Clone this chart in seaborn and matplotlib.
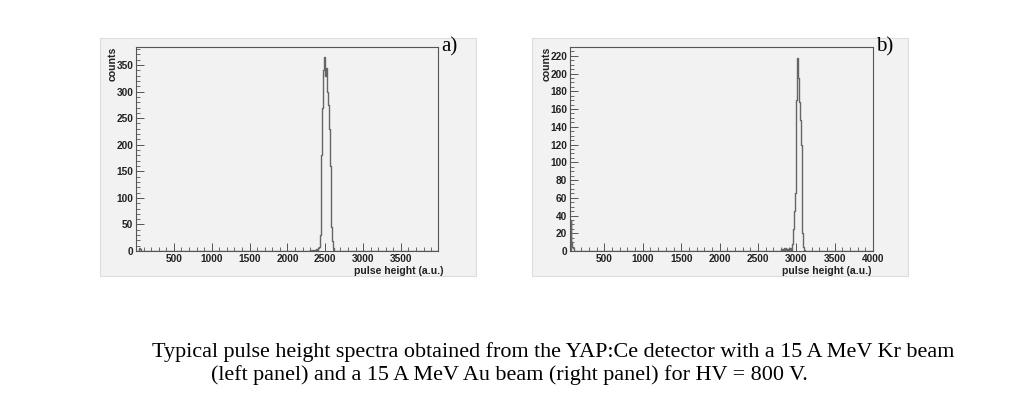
import numpy as np
import pandas as pd
import matplotlib
matplotlib.use("Agg")
import matplotlib.pyplot as plt
import seaborn as sns
from matplotlib.patches import Rectangle
from matplotlib.ticker import MultipleLocator

# Kr beam spectrum (bin width 10, only non-empty bins listed)
kr_x = [40, 50, 60, 2300, 2320, 2340, 2360, 2380, 2400, 2410, 2420,
        2430, 2440, 2450, 2460, 2470, 2480, 2490, 2500, 2510, 2520,
        2530, 2540, 2550, 2560, 2570, 2580, 2590, 2600, 2610]
kr_counts = [5, 3, 2, 1, 1, 2, 2, 3, 4, 5, 8,
             30, 90, 180, 270, 340, 355, 365, 330, 345, 325,
             300, 275, 230, 160, 95, 45, 18, 6, 2]

# Au beam spectrum
au_x = [60, 70, 80, 90, 100, 2800, 2820, 2840, 2860, 2880, 2900, 2920, 2940,
        2950, 2960, 2970, 2980, 2990, 3000, 3010, 3020, 3030, 3040,
        3050, 3060, 3070, 3080, 3090, 3100]
au_counts = [35, 10, 5, 3, 2, 2, 2, 3, 3, 2, 3, 3, 4,
             8, 25, 45, 65, 110, 170, 218, 195, 175, 168,
             148, 120, 60, 20, 5, 1]

caption1 = "Typical pulse height spectra obtained from the YAP:Ce detector with a 15 A MeV Kr beam"
caption2 = "(left panel) and a 15 A MeV Au beam (right panel) for HV = 800 V."

bg = "#f2f2f2"

fig = plt.figure(figsize=(10.17, 4.01), dpi=100)
fig.patch.set_facecolor("white")

# grey canvas behind each panel
for x0 in (0.0983, 0.523):
    fig.patches.append(Rectangle((x0, 0.312), 0.370, 0.594, transform=fig.transFigure,
                                 facecolor=bg, edgecolor="#dddddd", lw=0.8, zorder=-5))

ax1 = fig.add_axes([0.1337, 0.374, 0.297, 0.509])
ax2 = fig.add_axes([0.5605, 0.374, 0.298, 0.509])

panels = [
    (ax1, pd.DataFrame({"x": kr_x, "w": kr_counts}), (0, 3990), (0, 384), 50, 10, "a)", 1.017),
    (ax2, pd.DataFrame({"x": au_x, "w": au_counts}), (52, 4000), (0, 230), 20, 5, "b)", 0.995),
]

for ax, df, xl, yl, ymaj, ymin, tag, xlab_x in panels:
    ax.set_facecolor(bg)
    sns.histplot(data=df, x="x", weights="w", binwidth=10, binrange=(0, 4000),
                 element="step", fill=False, color="#666666", linewidth=1.0, ax=ax)
    ax.set_xlim(*xl)
    ax.set_ylim(*yl)
    ax.xaxis.set_major_locator(MultipleLocator(500))
    ax.xaxis.set_minor_locator(MultipleLocator(100))
    ax.yaxis.set_major_locator(MultipleLocator(ymaj))
    ax.yaxis.set_minor_locator(MultipleLocator(ymin))
    ax.tick_params(which="both", direction="in", color="#555555", top=False, right=False)
    ax.tick_params(which="major", length=6, width=0.7, labelsize=7.3, pad=2)
    ax.tick_params(which="minor", length=3, width=0.6)
    ax.set_xticks([t for t in np.arange(500, xl[1] + 1, 500)])
    ax.set_xlim(*xl)
    for lab in ax.get_xticklabels() + ax.get_yticklabels():
        lab.set_fontweight("bold")
        lab.set_family("Liberation Sans")
        lab.set_color("#222222")
    for s in ax.spines.values():
        s.set_color("#555555")
        s.set_linewidth(0.8)
    ax.set_xlabel("pulse height (a.u.)", fontsize=7.6, fontweight="bold",
                  family="Liberation Sans", color="#222222")
    ax.xaxis.set_label_coords(xlab_x, -0.075)
    ax.xaxis.label.set_horizontalalignment("right")
    ax.set_ylabel("counts", fontsize=7.6, fontweight="bold", family="Liberation Sans",
                  color="#222222")
    ax.yaxis.set_label_coords(-0.062, 1.0)
    ax.yaxis.label.set_horizontalalignment("right")
    ax.text(1.01, 1.0, tag, transform=ax.transAxes, family="Liberation Serif",
            fontsize=15, ha="left", va="center")

fig.text(152 / 1017, 1 - 352 / 401, caption1, family="Liberation Serif", fontsize=15.9,
         ha="left", va="center")
fig.text(211 / 1017, 1 - 375 / 401, caption2, family="Liberation Serif", fontsize=15.9,
         ha="left", va="center")

fig.savefig("out.png", dpi=100, facecolor="white")
